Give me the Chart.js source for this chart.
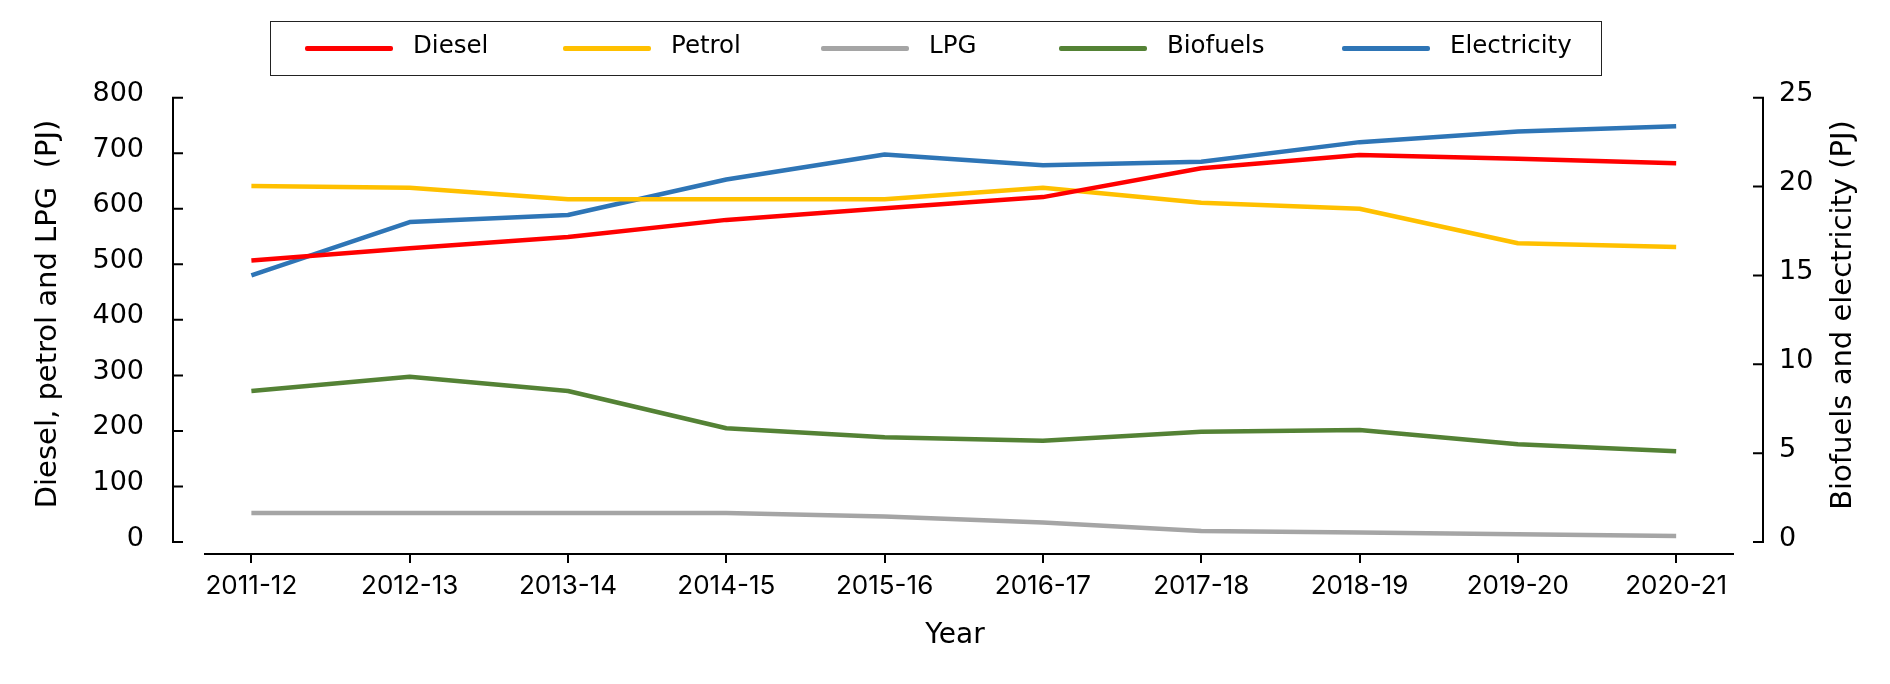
<!DOCTYPE html>
<html lang="en">
<head>
<meta charset="utf-8">
<title>Transport energy use by fuel</title>
<script src="https://cdn.jsdelivr.net/npm/chart.js@4.4.1/dist/chart.umd.min.js"></script>
<style>
  html, body { margin: 0; padding: 0; background: #ffffff; }
  .chart-wrap { position: relative; width: 1890px; height: 684px; }
  #fuel-chart { position: absolute; left: 0; top: 0; }
  .legend-box {
    position: absolute;
    left: 270px;
    top: 21px;
    width: 1332px;
    height: 55px;
    box-sizing: border-box;
    border: 1.5px solid #222;
    font-family: "DejaVu Sans", sans-serif;
    font-size: 24.5px;
    color: #000;
  }
  .legend-item {
    position: absolute;
    top: 0;
    height: 100%;
    display: flex;
    align-items: center;
  }
  .legend-line { width: 88px; height: 4.5px; border-radius: 2px; margin-right: 20px; }
  .legend-text { position: relative; top: -3px; line-height: 1; white-space: nowrap; }
</style>
</head>
<body>
<div class="chart-wrap">
  <canvas id="fuel-chart" width="1890" height="684"></canvas>
  <div class="legend-box" id="fuel-legend"></div>
</div>
<script>
// Catégories (années financières)
const yearLabels = [
  "2011-12",
  "2012-13",
  "2013-14",
  "2014-15",
  "2015-16",
  "2016-17",
  "2017-18",
  "2018-19",
  "2019-20",
  "2020-21",
];

// Séries sur l'axe gauche (PJ)
const dieselValues = [507, 529, 549, 580, 601, 621, 673, 697, 690, 682];
const petrolValues = [641, 638, 617, 617, 617, 638, 611, 600, 538, 531];
const lpgValues = [52, 52, 52, 52, 46, 35, 20, 17, 14, 11];

// Séries sur l'axe droit (PJ)
const biofuelValues = [8.5, 9.3, 8.5, 6.4, 5.9, 5.7, 6.2, 6.3, 5.5, 5.1];
const electricityValues = [15.0, 18.0, 18.4, 20.4, 21.8, 21.2, 21.4, 22.5, 23.1, 23.4];

// Graduations des axes
const leftTicks = [0, 100, 200, 300, 400, 500, 600, 700, 800];
const rightTicks = [0, 5, 10, 15, 20, 25];

const leftTitle = "Diesel, petrol and LPG  (PJ)";
const rightTitle = "Biofuels and electricity (PJ)";
const xTitle = "Year";

// Position de départ de chaque entrée de légende (px dans le cadre)
const legendOffsets = [34, 292, 550, 788, 1071];

const textColor = "#000";
const fontFamily = '"DejaVu Sans", sans-serif';

// Convertir une série en points {x, y}
function toPoints(values) {
  return values.map((v, i) => ({ x: i, y: v }));
}

function makeDataset(label, values, color, axis) {
  return {
    label: label,
    data: toPoints(values),
    borderColor: color,
    backgroundColor: color,
    borderWidth: 4.5,
    borderJoinStyle: "round",
    pointRadius: 0,
    pointHoverRadius: 0,
    tension: 0,
    fill: false,
    yAxisID: axis,
  };
}

// Axes verticaux décalés et titres des axes
const sideAxesPlugin = {
  id: "sideAxes",
  afterDraw(chart) {
    const { ctx, chartArea, scales } = chart;
    ctx.save();
    ctx.strokeStyle = "#000";
    ctx.lineWidth = 2;
    ctx.lineCap = "square";
    drawSideAxis(ctx, scales.yLeft, chartArea.left - 32, 9, leftTicks);
    drawSideAxis(ctx, scales.yRight, chartArea.right + 30, -9, rightTicks);

    ctx.fillStyle = textColor;
    ctx.textAlign = "center";
    ctx.textBaseline = "alphabetic";
    ctx.font = "29px " + fontFamily;

    ctx.save();
    ctx.translate(56, 314);
    ctx.rotate(-Math.PI / 2);
    ctx.fillText(leftTitle, 0, 0);
    ctx.restore();

    ctx.save();
    ctx.translate(1851, 315);
    ctx.rotate(-Math.PI / 2);
    ctx.fillText(rightTitle, 0, 0);
    ctx.restore();

    ctx.font = "28px " + fontFamily;
    ctx.fillText(xTitle, 955, 643);
    ctx.restore();
  },
};

function drawSideAxis(ctx, scale, x, tickLen, values) {
  const top = scale.getPixelForValue(values[values.length - 1]);
  const bottom = scale.getPixelForValue(values[0]);
  ctx.beginPath();
  ctx.moveTo(x, top);
  ctx.lineTo(x, bottom);
  values.forEach((v) => {
    const y = scale.getPixelForValue(v);
    ctx.moveTo(x, y);
    ctx.lineTo(x + tickLen, y);
  });
  ctx.stroke();
}

// Légende HTML à partir des jeux de données
function buildLegend(chart) {
  const box = document.getElementById("fuel-legend");
  box.innerHTML = "";
  chart.data.datasets.forEach((ds, i) => {
    const item = document.createElement("div");
    item.className = "legend-item";
    item.style.left = legendOffsets[i] + "px";
    const line = document.createElement("span");
    line.className = "legend-line";
    line.style.background = ds.borderColor;
    const text = document.createElement("span");
    text.className = "legend-text";
    text.textContent = ds.label;
    item.appendChild(line);
    item.appendChild(text);
    box.appendChild(item);
  });
}

const ctx = document.getElementById("fuel-chart").getContext("2d");

const fuelChart = new Chart(ctx, {
  type: "line",
  data: {
    datasets: [
      makeDataset("Diesel", dieselValues, "#ff0000", "yLeft"),
      makeDataset("Petrol", petrolValues, "#ffc000", "yLeft"),
      makeDataset("LPG", lpgValues, "#a5a5a5", "yLeft"),
      makeDataset("Biofuels", biofuelValues, "#548235", "yRight"),
      makeDataset("Electricity", electricityValues, "#2e75b6", "yRight"),
    ],
  },
  options: {
    responsive: false,
    animation: false,
    layout: {
      padding: { top: 97.7, left: 0, right: 0, bottom: 0 },
    },
    plugins: {
      legend: { display: false },
      tooltip: { enabled: false },
    },
    scales: {
      x: {
        type: "linear",
        min: -0.293,
        max: 9.359,
        afterBuildTicks: (scale) => {
          scale.ticks = yearLabels.map((_, i) => ({ value: i }));
        },
        afterFit: (scale) => {
          scale.height = 130;
        },
        grid: {
          display: true,
          drawOnChartArea: false,
          drawTicks: true,
          tickLength: 9,
          color: "#000",
          lineWidth: 2,
        },
        border: { display: true, color: "#000", width: 2 },
        ticks: {
          padding: 8,
          color: textColor,
          maxRotation: 0,
          autoSkip: false,
          font: { family: "Inter", size: 26 },
          callback: (value) => yearLabels[value] ?? "",
        },
      },
      yLeft: {
        type: "linear",
        position: "left",
        min: -21.6,
        max: 800,
        afterBuildTicks: (scale) => {
          scale.ticks = leftTicks.map((v) => ({ value: v }));
        },
        afterFit: (scale) => {
          scale.width = 205;
        },
        grid: { display: false, drawTicks: false },
        border: { display: false },
        ticks: {
          padding: 61,
          labelOffset: -3.5,
          color: textColor,
          font: { family: "DejaVu Sans", size: 27 },
        },
      },
      yRight: {
        type: "linear",
        position: "right",
        min: -0.675,
        max: 25,
        afterBuildTicks: (scale) => {
          scale.ticks = rightTicks.map((v) => ({ value: v }));
        },
        afterFit: (scale) => {
          scale.width = 157;
        },
        grid: { display: false, drawTicks: false },
        border: { display: false },
        ticks: {
          padding: 46,
          labelOffset: -3.5,
          color: textColor,
          font: { family: "DejaVu Sans", size: 27 },
        },
      },
    },
  },
  plugins: [sideAxesPlugin],
});

buildLegend(fuelChart);
</script>
</body>
</html>
